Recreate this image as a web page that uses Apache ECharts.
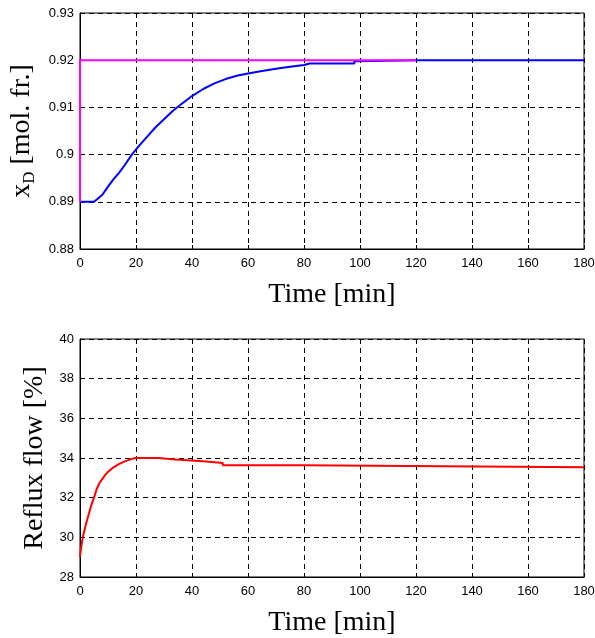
<!DOCTYPE html>
<html>
<head>
<meta charset="utf-8">
<script src="https://cdn.jsdelivr.net/npm/echarts@6/dist/echarts.min.js"></script>
<style>
  html, body { margin: 0; padding: 0; background: #fff; }
  #chart { width: 595px; height: 638px; }
</style>
</head>
<body>
<div id="chart"></div>
<script>
// top plot: distillate composition response
const xdTime = [0, 5, 6, 8, 10, 12, 14, 16, 18.5, 21, 24, 27, 30, 33, 36, 40, 44, 48, 52, 56, 60, 65, 70, 75, 80, 82, 98, 98, 120, 180]
const xdValue = [0.89, 0.89, 0.8905, 0.8915, 0.8932, 0.8948, 0.8962, 0.8978, 0.9, 0.9018, 0.9038, 0.9058, 0.9075, 0.9092, 0.9106, 0.9124, 0.9139, 0.9151, 0.916, 0.9167, 0.9172, 0.9177, 0.9182, 0.9186, 0.919, 0.9193, 0.9193, 0.9198, 0.92, 0.92]
// setpoint trajectory
const spTime = [0, 0, 120]
const spValue = [0.89, 0.92, 0.92]
// bottom plot: reflux flow
const refluxTime = [0, 0.3, 1, 2, 3, 4, 5, 6, 7, 8, 9, 10, 11, 12, 13, 14, 15, 16, 17, 18, 19, 20, 28, 28, 34, 34, 44, 44, 51, 51, 80, 80, 180]
const refluxValue = [29.0, 29.4, 30.0, 30.6, 31.1, 31.6, 32.0, 32.45, 32.75, 32.95, 33.15, 33.3, 33.42, 33.53, 33.62, 33.7, 33.77, 33.83, 33.88, 33.93, 33.97, 34.0, 34.0, 33.92, 33.92, 33.83, 33.83, 33.75, 33.75, 33.63, 33.63, 33.53, 33.53]

const timeTicks = [0, 20, 40, 60, 80, 100, 120, 140, 160, 180]
const xdTicks = [0.88, 0.89, 0.9, 0.91, 0.92, 0.93]
const refluxTicks = [28, 30, 32, 34, 36, 38, 40]

const pairs = (xs, ys) => xs.map((x, i) => [x, ys[i]])

const tickFont = { color: '#000', fontFamily: 'Liberation Sans, Arial', fontSize: 13 }
const titleFont = { color: '#000', fontFamily: 'Liberation Serif, Times New Roman', fontSize: 28 }
const dashed = { show: true, lineStyle: { color: '#000', type: [5, 4], width: 1 } }

const timeAxis = (gridIndex) => ({
  type: 'value',
  gridIndex,
  min: timeTicks[0],
  max: timeTicks[timeTicks.length - 1],
  interval: 20,
  name: 'Time [min]',
  nameLocation: 'middle',
  nameGap: 32,
  nameTextStyle: titleFont,
  axisLine: { onZero: false, lineStyle: { color: '#000', width: 1 } },
  axisTick: { inside: true, length: 4, lineStyle: { color: '#000' } },
  axisLabel: { ...tickFont, margin: 8 },
  splitLine: dashed
})

const chart = echarts.init(document.getElementById('chart'))
chart.setOption({
  backgroundColor: '#fff',
  animation: false,
  grid: [
    { left: 80, right: 11, top: 13, height: 236, outerBoundsMode: 'none', containLabel: false, show: true, borderColor: '#000', borderWidth: 1, backgroundColor: 'transparent' },
    { left: 80, right: 11, top: 339, height: 238, outerBoundsMode: 'none', containLabel: false, show: true, borderColor: '#000', borderWidth: 1, backgroundColor: 'transparent' }
  ],
  xAxis: [timeAxis(0), timeAxis(1)],
  yAxis: [
    {
      type: 'value',
      gridIndex: 0,
      min: xdTicks[0],
      max: xdTicks[xdTicks.length - 1],
      interval: 0.01,
      name: '{x|x}{d|D}{x| [mol. fr.]}',
      nameLocation: 'middle',
      nameRotate: 90,
      nameGap: 40,
      nameTextStyle: {
        ...titleFont,
        rich: {
          x: { ...titleFont, lineHeight: 32 },
          d: { ...titleFont, fontSize: 17, lineHeight: 32, verticalAlign: 'bottom', padding: [10, 0, 0, 0] }
        }
      },
      axisLine: { show: true, lineStyle: { color: '#000', width: 1 } },
      axisTick: { show: true, inside: true, length: 4, lineStyle: { color: '#000' } },
      axisLabel: { ...tickFont, margin: 6, formatter: v => String(+v.toFixed(2)) },
      splitLine: dashed
    },
    {
      type: 'value',
      gridIndex: 1,
      min: refluxTicks[0],
      max: refluxTicks[refluxTicks.length - 1],
      interval: 2,
      name: 'Reflux flow [%]',
      nameLocation: 'middle',
      nameRotate: 90,
      nameGap: 26,
      nameTextStyle: titleFont,
      axisLine: { show: true, lineStyle: { color: '#000', width: 1 } },
      axisTick: { show: true, inside: true, length: 4, lineStyle: { color: '#000' } },
      axisLabel: { ...tickFont, margin: 6 },
      splitLine: dashed
    }
  ],
  series: [
    {
      name: 'xD',
      type: 'line',
      xAxisIndex: 0,
      yAxisIndex: 0,
      symbol: 'none',
      lineStyle: { color: '#0000ff', width: 2 },
      data: pairs(xdTime, xdValue)
    },
    {
      name: 'setpoint',
      type: 'line',
      xAxisIndex: 0,
      yAxisIndex: 0,
      symbol: 'none',
      lineStyle: { color: '#ff00ff', width: 2 },
      data: pairs(spTime, spValue)
    },
    {
      name: 'Reflux',
      type: 'line',
      xAxisIndex: 1,
      yAxisIndex: 1,
      symbol: 'none',
      lineStyle: { color: '#ff0000', width: 2 },
      data: pairs(refluxTime, refluxValue)
    }
  ]
})
</script>
</body>
</html>
